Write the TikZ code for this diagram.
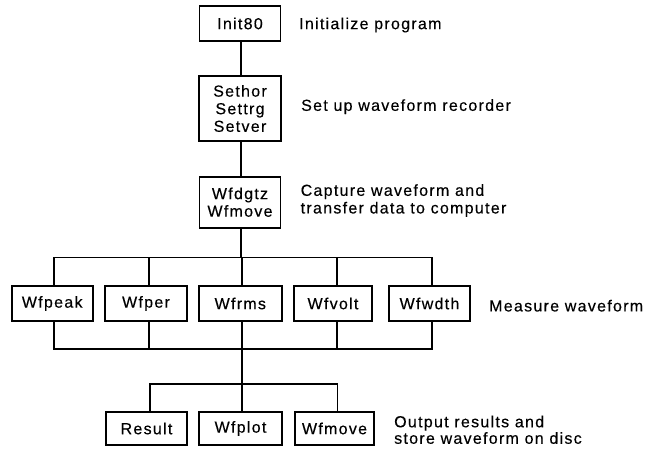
\documentclass[tikz,border=0pt]{standalone}
\usepackage{fontspec}
\setmainfont[LetterSpace=8,FakeBold=0.3]{Liberation Sans}
\begin{document}
\begin{tikzpicture}[x=1pt,y=-1pt,
  box/.style={draw,line width=1.8pt,inner sep=0pt,align=center,minimum height=#1},
  box/.default=35,
  conn/.style={line width=1.2pt},
  note/.style={anchor=west,inner sep=0pt,align=left},
  every node/.style={font=\fontsize{16}{17.6}\selectfont}]
\useasboundingbox (0,0) rectangle (651,448);
% top chain
\node[box=35,minimum width=81] (init) at (240,23.5) {Init80};
\node[box=65,minimum width=82] (set) at (240,108.5) {Sethor\\Settrg\\Setver};
\node[box=51,minimum width=81] (dig) at (240,202.2) {Wfdgtz\\Wfmove};
% measure row
\node[box=35,minimum width=81] (peak) at (52.2,303.5) {Wfpeak};
\node[box=35,minimum width=82] (per) at (146,303.5) {Wfper};
\node[box=35,minimum width=82.7] (rms) at (240.3,303.5) {Wfrms};
\node[box=35,minimum width=78] (volt) at (333,303.5) {Wfvolt};
\node[box=35,minimum width=81] (wdth) at (429.5,303.5) {Wfwdth};
% output row
\node[box=33,minimum width=81] (result) at (146.5,428.5) {Result};
\node[box=33,minimum width=82.4] (plot) at (240.5,428.5) {Wfplot};
\node[box=33,minimum width=79] (move) at (334.5,428.5) {Wfmove};
% bus levels
\coordinate (tb) at (0,257.5);
\coordinate (bb) at (0,349);
\coordinate (lb) at (0,384);
% connectors
\draw[conn] ([xshift=1]init.south) -- ([xshift=1]set.north);
\draw[conn] ([xshift=1]set.south) -- ([xshift=1]dig.north);
\draw[conn] ([xshift=1]dig.south) -- ([xshift=1]dig.south |- tb);
\draw[conn] ([xshift=1.8]peak.north) |- ([xshift=2.5]wdth.north |- tb) -- ([xshift=2.5]wdth.north);
\draw[conn] ([xshift=3]per.north) -- ([xshift=3]per.north |- tb);
\draw[conn] ([xshift=1.7]rms.north) -- ([xshift=1.7]rms.north |- tb);
\draw[conn] ([xshift=4]volt.north) -- ([xshift=4]volt.north |- tb);
\draw[conn] ([xshift=1.8]peak.south) |- ([xshift=2.5]wdth.south |- bb) -- ([xshift=2.5]wdth.south);
\draw[conn] ([xshift=3]per.south) -- ([xshift=3]per.south |- bb);
\draw[conn] ([xshift=4]volt.south) -- ([xshift=4]volt.south |- bb);
\draw[conn] ([xshift=1.7]rms.south) -- ([xshift=1.5]plot.north);
\draw[conn] ([xshift=3.5]result.north) |- ([xshift=3.2]move.north |- lb) -- ([xshift=3.2]move.north);
% notes
\node[note] (n1) at (299,25) {Initialize program};
\node[note] (n2) at (301,106.7) {Set up waveform recorder};
\node[note] (n3) at (300.5,200.5) {Capture waveform and\\transfer data to computer};
\node[note] (n4) at (489,305.7) {Measure waveform};
\node[note,font=\fontsize{16}{16.5}\selectfont] (n5) at (394,429.8) {Output results and\\store waveform on disc};
\end{tikzpicture}
\end{document}
